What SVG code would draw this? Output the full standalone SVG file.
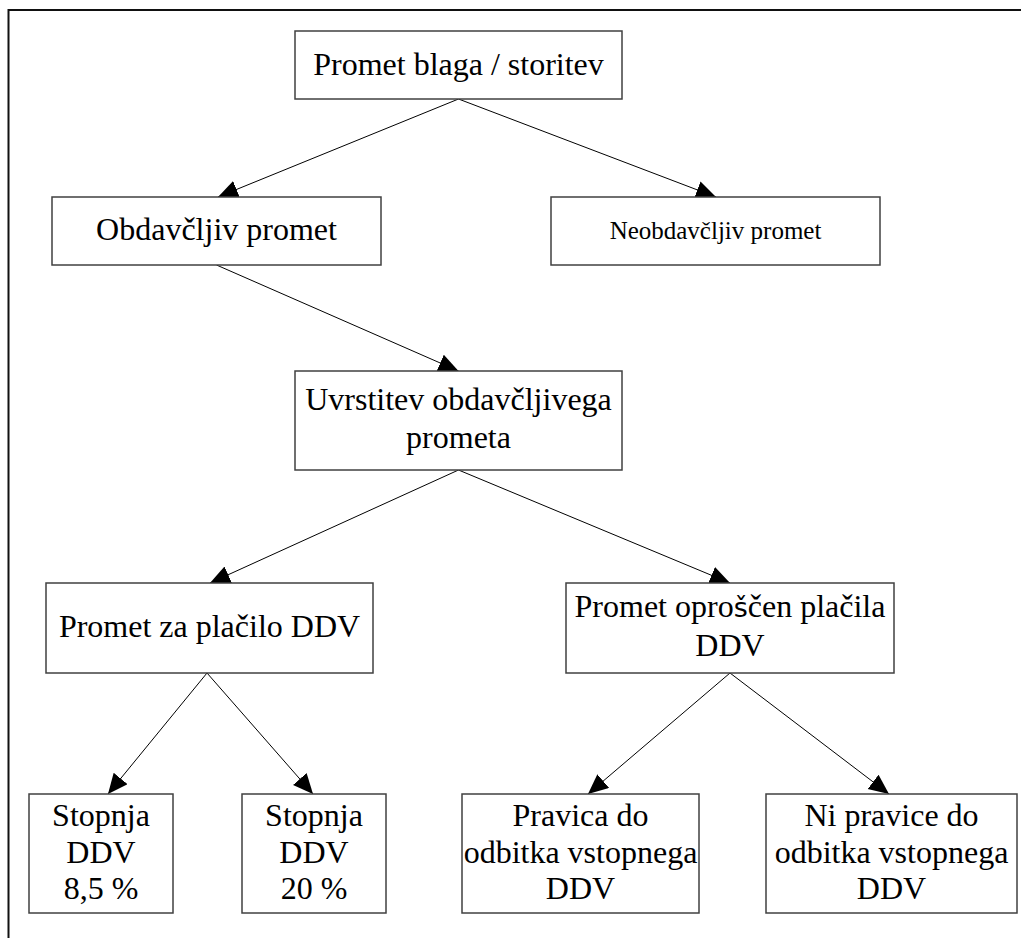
<svg xmlns="http://www.w3.org/2000/svg" width="1021" height="938" viewBox="0 0 1021 938">
  <style>
    .box { fill: #ffffff; stroke: #404040; stroke-width: 1.5; }
    .lbl { font-family: "Liberation Serif", "Times New Roman", serif; font-size: 32px; fill: #000000; text-anchor: middle; }
    .small { font-size: 25px; }
    .alt { font-family: "DejaVu Sans", sans-serif; font-size: 27px; }
    .link { stroke: #000000; stroke-width: 1; fill: none; marker-end: url(#head); }
  </style>
  <defs>
    <marker id="head" markerUnits="userSpaceOnUse" markerWidth="22" markerHeight="20" refX="20" refY="9" orient="auto">
      <path d="M0,0 L20,9 L0,18 z" fill="#000000"/>
    </marker>
  </defs>

  <!-- page frame -->
  <rect x="8.5" y="10" width="1100" height="1000" fill="none" stroke="#111111" stroke-width="2"/>

  <!-- connectors -->
  <g id="connectors">
    <line class="link" x1="458.5" y1="99" x2="218" y2="197"/>
    <line class="link" x1="458.5" y1="99" x2="716" y2="197"/>
    <line class="link" x1="216.5" y1="265" x2="458.5" y2="371"/>
    <line class="link" x1="458.5" y1="470" x2="210" y2="583"/>
    <line class="link" x1="458.5" y1="470" x2="730" y2="583"/>
    <line class="link" x1="207" y1="673" x2="108" y2="794"/>
    <line class="link" x1="207" y1="673" x2="313" y2="794"/>
    <line class="link" x1="730" y1="673" x2="588" y2="794"/>
    <line class="link" x1="730" y1="673" x2="889" y2="794"/>
  </g>

  <!-- nodes -->
  <g id="n-promet">
    <rect class="box" x="295" y="31" width="327" height="68"/>
    <text class="lbl" x="458.5" y="75">Promet blaga / storitev</text>
  </g>
  <g id="n-obdavcljiv">
    <rect class="box" x="52" y="197" width="329" height="68"/>
    <text class="lbl" x="216.5" y="240">Obdavčljiv promet</text>
  </g>
  <g id="n-neobdavcljiv">
    <rect class="box" x="551" y="197" width="329" height="68"/>
    <text class="lbl small" x="715.5" y="239">Neobdavčljiv promet</text>
  </g>
  <g id="n-uvrstitev">
    <rect class="box" x="295" y="371" width="327" height="99"/>
    <text class="lbl" x="458.5" y="410">Uvrstitev obdavčljivega</text>
    <text class="lbl" x="458.5" y="448">prometa</text>
  </g>
  <g id="n-placilo">
    <rect class="box" x="46" y="583" width="327" height="90"/>
    <text class="lbl" x="209.5" y="637">Promet za plačilo DDV</text>
  </g>
  <g id="n-oproscen">
    <rect class="box" x="566" y="583" width="328" height="90"/>
    <text class="lbl" x="730" y="617">Promet opro<tspan class="alt">š</tspan>čen plačila</text>
    <text class="lbl" x="730" y="656">DDV</text>
  </g>
  <g id="n-stopnja85">
    <rect class="box" x="29" y="794" width="144" height="119"/>
    <text class="lbl" x="101" y="826">Stopnja</text>
    <text class="lbl" x="101" y="863">DDV</text>
    <text class="lbl" x="101" y="899">8,5 %</text>
  </g>
  <g id="n-stopnja20">
    <rect class="box" x="242" y="794" width="144" height="119"/>
    <text class="lbl" x="314" y="826">Stopnja</text>
    <text class="lbl" x="314" y="863">DDV</text>
    <text class="lbl" x="314" y="899">20 %</text>
  </g>
  <g id="n-pravica">
    <rect class="box" x="462" y="794" width="237" height="119"/>
    <text class="lbl" x="580.5" y="826">Pravica do</text>
    <text class="lbl" x="580.5" y="863">odbitka vstopnega</text>
    <text class="lbl" x="580.5" y="899">DDV</text>
  </g>
  <g id="n-nipravice">
    <rect class="box" x="766" y="794" width="251" height="119"/>
    <text class="lbl" x="891.5" y="826">Ni pravice do</text>
    <text class="lbl" x="891.5" y="863">odbitka vstopnega</text>
    <text class="lbl" x="891.5" y="899">DDV</text>
  </g>
</svg>
